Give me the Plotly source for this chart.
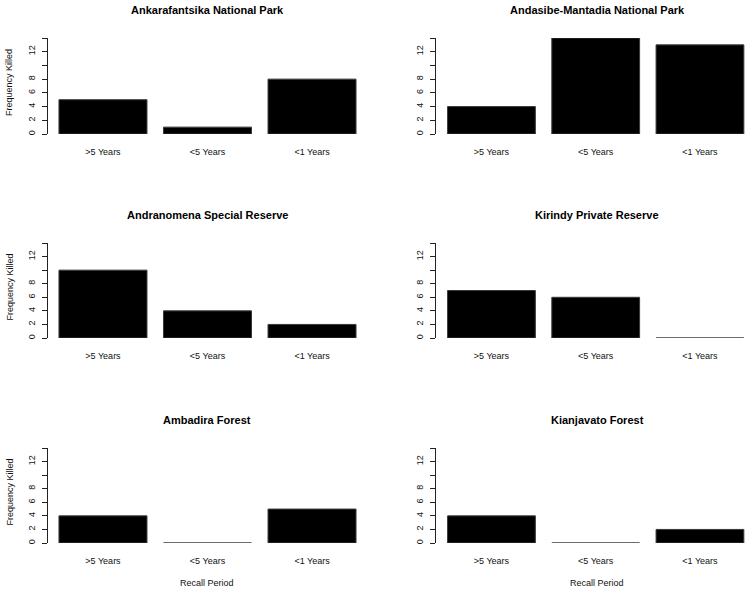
import plotly.graph_objects as go

periods = [">5 Years", "<5 Years", "<1 Years"]
sites = [
    "Ankarafantsika National Park",
    "Andasibe-Mantadia National Park",
    "Andranomena Special Reserve",
    "Kirindy Private Reserve",
    "Ambadira Forest",
    "Kianjavato Forest",
]
ankarafantsika = [5, 1, 8]
andasibe = [4, 14, 13]
andranomena = [10, 4, 2]
kirindy = [7, 6, 0]
ambadira = [4, 0, 5]
kianjavato = [4, 0, 2]
values = [ankarafantsika, andasibe, andranomena, kirindy, ambadira, kianjavato]

ytick_vals = [0, 2, 4, 6, 8, 10, 12, 14]
ytick_text = ["0", "2", "4", "6", "8", "", "12", ""]
y_title = "Frequency Killed"
x_title = "Recall Period"

W, H = 750, 592
FONT = "Liberation Sans, Arial, sans-serif"

# pixel geometry of panels
col_px = [(48, 367, [-0.526, 2.526]), (436, 750, [-0.532, 2.48])]
row_px = [(38, 134), (243, 338), (448, 543)]
title_centers = [207, 597]

fig = go.Figure()
annotations = []
for i, (site, vals) in enumerate(zip(sites, values)):
    r, c = divmod(i, 2)
    n = i + 1
    xa = "x" if n == 1 else f"x{n}"
    ya = "y" if n == 1 else f"y{n}"
    fig.add_trace(go.Bar(
        x=periods, y=vals, xaxis=xa, yaxis=ya,
        marker=dict(color="#000000", line=dict(color="#3a3a3a", width=1)),
        showlegend=False, hoverinfo="x+y",
    ))
    x0, x1, xr = col_px[c]
    top, bot = row_px[r]
    fig.layout[("xaxis" if n == 1 else f"xaxis{n}")] = dict(
        domain=[x0 / W, x1 / W], range=xr, anchor=ya,
        showline=False, showgrid=False, zeroline=False, ticks="",
        tickfont=dict(size=9, color="#111", family=FONT),
        ticklabelstandoff=11, fixedrange=True,
    )
    fig.layout[("yaxis" if n == 1 else f"yaxis{n}")] = dict(
        domain=[1 - bot / H, 1 - top / H], range=[0, 14], anchor=xa,
        showline=True, linecolor="#222", linewidth=1,
        showgrid=False, zeroline=False,
        ticks="outside", ticklen=5, tickcolor="#222",
        tickvals=ytick_vals, ticktext=ytick_text, tickangle=-90,
        tickfont=dict(size=9, color="#111", family=FONT),
        ticklabelstandoff=3, fixedrange=True,
    )
    annotations.append(dict(
        text=f"<b>{site}</b>", x=title_centers[c] / W, y=1 - (top - 28) / H,
        xref="paper", yref="paper", showarrow=False, xanchor="center", yanchor="middle",
        font=dict(size=11, color="#000", family=FONT),
    ))
    if c == 0:
        annotations.append(dict(
            text=y_title, x=9 / W, y=1 - ((top + bot) / 2 - 3) / H,
            xref="paper", yref="paper", showarrow=False, textangle=-90,
            xanchor="center", yanchor="middle",
            font=dict(size=9, color="#111", family=FONT),
        ))
    if r == 2:
        annotations.append(dict(
            text=x_title, x=title_centers[c] / W, y=1 - 583 / H,
            xref="paper", yref="paper", showarrow=False,
            xanchor="center", yanchor="middle",
            font=dict(size=9, color="#111", family=FONT),
        ))

fig.update_layout(
    width=W, height=H,
    margin=dict(l=0, r=0, t=0, b=0),
    paper_bgcolor="white", plot_bgcolor="white",
    bargap=0.158,
    annotations=annotations,
    font=dict(family=FONT),
)

fig.write_html(
    "out.html",
    config={"displayModeBar": False},
    post_script="document.body.style.margin='0';document.body.style.overflow='hidden';",
)
